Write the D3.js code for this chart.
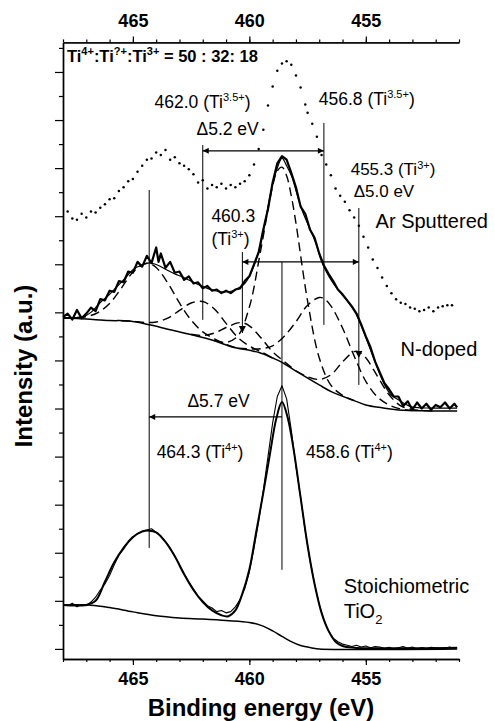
<!DOCTYPE html>
<html>
<head>
<meta charset="utf-8">
<script src="https://cdn.jsdelivr.net/npm/d3@7"></script>
<style>
  body { margin: 0; background: #fff; }
  svg { display: block; }
  text { font-family: 'Liberation Sans', Arial, sans-serif; fill: #000; }
</style>
</head>
<body>
<svg id="chart" width="495" height="721"></svg>
<script>
// Ti 2p XPS spectra, binding energy (eV) vs intensity (a.u., stacked offsets)
const energyTicks = [465, 460, 455];
const energyMinorTicks = d3.range(451, 469, 1);
const intensityTicks = d3.range(0, 26, 1);

// Ar sputtered (dotted scan)
const arSputtered = [
  [467.8, 18.2], [467.6, 17.9], [467.4, 17.85], [467.2, 18.1], [467.0, 17.95], [466.8, 18.2],
  [466.6, 18.15], [466.4, 18.35], [466.2, 18.5], [466.0, 18.7], [465.8, 18.75], [465.6, 19.05],
  [465.4, 19.2], [465.2, 19.45], [465.0, 19.55], [464.8, 19.85], [464.6, 20.1], [464.4, 20.35],
  [464.2, 20.4], [464.0, 20.65], [463.8, 20.55], [463.6, 20.75], [463.4, 20.35], [463.2, 20.45],
  [463.0, 20.2], [462.8, 20.1], [462.6, 19.95], [462.4, 19.75], [462.2, 19.4], [462.0, 19.5],
  [461.8, 19.15], [461.6, 19.3], [461.4, 19.2], [461.2, 19.35], [461.0, 19.15], [460.8, 19.3],
  [460.6, 19.2], [460.4, 19.35], [460.2, 19.45], [460.0, 19.7], [459.8, 20.15], [459.6, 20.8],
  [459.4, 21.6], [459.2, 22.6], [459.0, 23.4], [458.8, 24.05], [458.6, 24.35], [458.4, 24.45],
  [458.2, 24.3], [458.0, 23.85], [457.8, 23.35], [457.6, 22.65], [457.5, 22.3], [457.3, 21.85],
  [457.1, 21.3], [456.9, 20.55], [456.7, 20.15], [456.5, 19.7], [456.3, 19.15], [456.1, 18.85],
  [455.9, 18.6], [455.7, 18.25], [455.5, 17.95], [455.3, 17.6], [455.1, 17.15], [454.9, 16.7],
  [454.7, 16.2], [454.5, 15.85], [454.3, 15.45], [454.1, 15.1], [453.9, 14.8], [453.7, 14.55],
  [453.5, 14.4], [453.3, 14.35], [453.1, 14.2], [452.9, 14.15], [452.7, 14.05], [452.5, 14.1],
  [452.3, 14.2], [452.1, 14.05], [451.9, 14.2], [451.7, 14.25], [451.5, 14.3], [451.3, 14.3]
];

// N-doped: measured, envelope, Shirley background, components
const nDopedRaw = [
  [468.0, 13.8], [467.8, 13.95], [467.6, 13.7], [467.4, 14.1], [467.2, 13.75], [467.0, 13.95],
  [466.8, 14.2], [466.6, 14.05], [466.4, 14.55], [466.2, 14.5], [466.0, 14.9], [465.8, 14.85],
  [465.6, 15.3], [465.4, 15.25], [465.2, 15.7], [465.0, 15.65], [464.8, 16.1], [464.6, 15.9],
  [464.4, 16.35], [464.2, 16.05], [464.0, 16.7], [463.9, 16.1], [463.8, 16.45], [463.6, 15.85],
  [463.4, 16.1], [463.2, 15.65], [463.0, 15.7], [462.8, 15.35], [462.6, 15.5], [462.4, 15.2],
  [462.2, 15.25], [462.0, 15.0], [461.8, 15.1], [461.6, 14.9], [461.4, 14.95], [461.2, 14.8],
  [461.0, 14.9], [460.8, 14.8], [460.6, 14.95], [460.4, 15.0], [460.2, 15.3], [460.0, 15.5],
  [459.8, 16.0], [459.6, 16.5], [459.4, 17.45], [459.2, 18.3], [459.0, 19.4], [458.8, 20.2],
  [458.6, 20.5], [458.4, 20.35], [458.2, 19.8], [458.0, 19.2], [457.8, 18.4], [457.6, 18.1],
  [457.4, 17.45], [457.2, 17.1], [457.0, 16.45], [456.8, 15.95], [456.6, 15.6], [456.4, 15.3],
  [456.2, 14.95], [456.0, 14.75], [455.8, 14.5], [455.6, 14.25], [455.4, 13.95], [455.2, 13.5],
  [455.0, 13.0], [454.8, 12.55], [454.6, 11.95], [454.4, 11.5], [454.2, 11.05], [454.0, 10.8],
  [453.8, 10.5], [453.6, 10.5], [453.4, 10.1], [453.2, 10.3], [453.0, 9.95], [452.8, 10.25],
  [452.6, 10.0], [452.4, 10.2], [452.2, 9.95], [452.0, 10.15], [451.8, 10.05], [451.6, 10.25],
  [451.4, 10.0], [451.2, 10.2], [451.08, 10.05]
];
const nDopedFit = [
  [468.0, 13.77], [467.5, 13.78], [467.15, 13.81], [466.8, 14.0], [466.42, 14.39], [466.0, 14.75],
  [465.69, 15.06], [465.3, 15.45], [465.0, 15.77], [464.6, 15.98], [464.28, 16.06], [463.9, 15.95],
  [463.56, 15.77], [463.2, 15.6], [462.87, 15.47], [462.5, 15.3], [462.15, 15.14], [461.8, 15.0],
  [461.42, 14.89], [461.1, 14.85], [460.74, 14.89], [460.44, 15.02], [460.2, 15.2], [460.01, 15.47],
  [459.8, 15.95], [459.58, 16.6], [459.28, 17.97], [459.03, 19.22], [458.8, 20.0], [458.6, 20.42],
  [458.4, 20.1], [458.17, 19.63], [457.95, 18.9], [457.74, 18.26], [457.57, 17.85], [457.32, 17.3],
  [457.1, 16.75], [456.93, 16.2], [456.7, 15.7], [456.46, 15.3], [456.16, 14.9], [455.86, 14.55],
  [455.61, 14.23], [455.44, 13.98], [455.1, 13.2], [454.75, 12.31], [454.45, 11.55], [454.15, 10.9],
  [453.9, 10.55], [453.6, 10.36], [453.3, 10.18], [453.04, 10.07], [452.7, 10.03], [452.0, 10.02],
  [451.08, 10.02]
];
const nDopedBackground = [
  [468.0, 13.77], [467.0, 13.72], [466.0, 13.66], [465.14, 13.64], [464.28, 13.48], [463.5, 13.3],
  [462.44, 13.06], [461.5, 12.82], [460.74, 12.56], [460.0, 12.42], [459.58, 12.33], [459.0, 12.1],
  [458.64, 11.94], [457.87, 11.48], [457.0, 10.98], [456.46, 10.69], [455.5, 10.33], [455.0, 10.15],
  [454.3, 10.03], [453.6, 9.94], [452.2, 9.9], [451.08, 9.9]
];
const peak4643 = [
  [468.0, 13.77], [467.5, 13.78], [467.0, 13.82], [466.5, 13.99], [466.0, 14.37], [465.5, 15.0],
  [465.0, 15.67], [464.5, 16.02], [464.3, 16.03], [464.0, 15.87], [463.5, 15.22], [463.0, 14.39],
  [462.5, 13.68], [462.0, 13.19], [461.5, 12.9], [461.0, 12.67], [460.5, 12.5]
];
const peak4620 = [
  [465.5, 13.65], [465.0, 13.63], [464.5, 13.58], [464.0, 13.6], [463.5, 13.76], [463.0, 14.08],
  [462.5, 14.39], [462.0, 14.45], [461.5, 14.14], [461.0, 13.54], [460.5, 12.96], [460.0, 12.6],
  [459.5, 12.36], [459.0, 12.11]
];
const peak4603 = [
  [462.5, 13.09], [462.0, 13.04], [461.5, 13.14], [461.0, 13.37], [460.5, 13.56], [460.3, 13.57],
  [460.0, 13.44], [459.5, 12.94], [459.0, 12.36], [458.5, 11.95], [458.0, 11.57]
];
const peak4586 = [
  [461.5, 12.83], [461.0, 12.75], [460.5, 13.01], [460.0, 14.22], [459.5, 16.65], [459.0, 19.26],
  [458.8, 19.88], [458.6, 20.04], [458.4, 19.68], [458.2, 18.85], [458.0, 17.71], [457.5, 14.47],
  [457.0, 12.11], [456.5, 10.97], [456.0, 10.55], [455.5, 10.33]
];
const peak4568 = [
  [460.5, 12.51], [460.0, 12.48], [459.5, 12.49], [459.0, 12.61], [458.5, 13.01], [458.0, 13.61],
  [457.5, 14.3], [457.0, 14.62], [456.8, 14.57], [456.5, 14.27], [456.0, 13.35], [455.5, 12.18],
  [455.0, 11.13], [454.5, 10.48], [454.0, 10.15], [453.5, 9.98], [453.0, 9.92]
];
const peak4553 = [
  [458.0, 11.57], [457.5, 11.32], [457.0, 11.21], [456.5, 11.4], [456.0, 11.94], [455.5, 12.37],
  [455.3, 12.36], [455.0, 12.11], [454.5, 11.34], [454.0, 10.57], [453.5, 10.11], [453.0, 9.96],
  [452.5, 9.91], [452.0, 9.9]
];
const nDopedPeaks = [peak4643, peak4620, peak4603, peak4586, peak4568, peak4553];

// stoichiometric TiO2
const tio2Raw = [
  [468.0, 1.85], [467.8, 1.8], [467.6, 1.9], [467.4, 1.75], [467.2, 1.85], [467.0, 1.8],
  [466.8, 1.95], [466.6, 2.15], [466.4, 2.45], [466.2, 2.7], [466.0, 3.05], [465.8, 3.5],
  [465.6, 3.9], [465.4, 4.15], [465.2, 4.45], [465.0, 4.65], [464.8, 4.8], [464.6, 4.9],
  [464.4, 4.95], [464.2, 5.0], [464.0, 4.85], [463.8, 4.7], [463.6, 4.45], [463.4, 4.2],
  [463.2, 3.85], [463.0, 3.5], [462.8, 3.15], [462.6, 2.8], [462.4, 2.5], [462.2, 2.2],
  [462.0, 2.0], [461.8, 1.8], [461.6, 1.7], [461.4, 1.55], [461.2, 1.6], [461.0, 1.5],
  [460.8, 1.55], [460.6, 1.75], [460.4, 2.05], [460.2, 2.5], [460.0, 3.2], [459.8, 4.2],
  [459.6, 5.3], [459.4, 6.6], [459.2, 8.0], [459.0, 9.4], [458.8, 10.5], [458.6, 10.95],
  [458.4, 10.4], [458.2, 9.1], [458.0, 7.6], [457.8, 6.3], [457.6, 4.9], [457.4, 3.7],
  [457.2, 2.7], [457.0, 1.85], [456.8, 1.2], [456.6, 0.75], [456.4, 0.45], [456.2, 0.3],
  [456.0, 0.2], [455.8, 0.15], [455.6, 0.1], [455.4, 0.15], [455.2, 0.08], [455.0, 0.12],
  [454.8, 0.05], [454.6, 0.1], [454.4, 0.08], [454.2, 0.02], [454.0, 0.07], [453.8, 0.0],
  [453.6, 0.05], [453.4, 0.1], [453.2, 0.03], [453.0, 0.08], [452.8, 0.0], [452.6, 0.06],
  [452.4, 0.02], [452.2, 0.07], [452.0, 0.05], [451.8, 0.0], [451.6, 0.04], [451.4, 0.08],
  [451.2, 0.03], [451.08, 0.05]
];
const tio2Fit = [
  [468.0, 1.83], [467.0, 1.83], [466.6, 2.0], [466.2, 2.8], [465.8, 3.6], [465.4, 4.2],
  [465.0, 4.65], [464.6, 4.88], [464.3, 4.92], [464.0, 4.85], [463.6, 4.45], [463.2, 3.85],
  [462.8, 3.1], [462.4, 2.45], [462.0, 1.95], [461.6, 1.6], [461.2, 1.4], [460.9, 1.36],
  [460.6, 1.6], [460.3, 2.3], [460.0, 3.3], [459.7, 4.9], [459.4, 6.5], [459.1, 8.2],
  [458.85, 9.55], [458.6, 10.27], [458.35, 9.6], [458.1, 8.3], [457.8, 6.3], [457.5, 4.3],
  [457.2, 2.7], [456.9, 1.5], [456.6, 0.75], [456.3, 0.3], [456.0, 0.12], [455.5, 0.05],
  [451.08, 0.05]
];
const tio2Background = [
  [468.0, 1.83], [466.8, 1.82], [466.0, 1.72], [465.0, 1.54], [464.0, 1.38], [463.0, 1.29],
  [462.0, 1.24], [461.0, 1.18], [460.0, 1.1], [459.5, 0.98], [459.0, 0.75], [458.6, 0.52],
  [458.2, 0.3], [457.8, 0.14], [457.3, 0.04], [457.0, 0.0], [451.08, 0.0]
];

// peak position markers: [energy, top, bottom] in intensity units
const peakLines = [
  [464.3, 19.09, 4.2], [462.0, 20.96, 13.69], [460.3, 16.51, 13.14],
  [458.6, 16.1, 3.29], [456.8, 21.88, 13.48], [455.3, 18.34, 10.98]
];
// splitting arrows: [from, to, intensity]
const splitArrows = [[462.0, 456.8, 20.72], [460.3, 455.3, 16.1]];
const splitArrowSingle = [464.3, 458.6, 9.65];

const svg = d3.select('#chart');
const x = d3.scaleLinear().domain([468, 451]).range([63, 459]);
const y = d3.scaleLinear().domain([-0.42, 25.23]).range([659, 42.4]);

const defs = svg.append('defs');
defs.append('marker')
    .attr('id', 'arrow')
    .attr('viewBox', '0 0 10 10')
    .attr('refX', 10).attr('refY', 5)
    .attr('markerWidth', 9).attr('markerHeight', 6)
    .attr('markerUnits', 'userSpaceOnUse')
    .attr('orient', 'auto-start-reverse')
  .append('path')
    .attr('d', 'M0,0L10,5L0,10Z')
    .attr('fill', '#000');

function styleAxis(g) {
  g.select('.domain').attr('stroke', '#000').attr('stroke-width', 1.4);
  g.selectAll('.tick line').attr('stroke', '#000').attr('stroke-width', 1.2);
  g.selectAll('.tick text')
   .style('font-family', "'Liberation Sans', Arial, sans-serif")
   .style('font-weight', 'bold')
   .style('font-size', '18px')
   .attr('fill', '#000');
}

function drawEnergyAxis(axisFn, ypos, pad) {
  svg.append('g').attr('transform', `translate(0,${ypos})`)
     .call(axisFn(x).tickValues(energyMinorTicks).tickSize(3).tickSizeOuter(0).tickFormat(''))
     .call(styleAxis);
  svg.append('g').attr('transform', `translate(0,${ypos})`)
     .call(axisFn(x).tickValues(energyTicks).tickSize(6).tickSizeOuter(0).tickPadding(pad)
                     .tickFormat(d3.format('d')))
     .call(styleAxis);
}
drawEnergyAxis(d3.axisTop, y.range()[1], 9);
drawEnergyAxis(d3.axisBottom, y.range()[0], 7);

svg.append('g').attr('transform', `translate(${x.range()[0]},0)`)
   .call(d3.axisLeft(y).tickValues(intensityTicks.filter((d) => d % 2)).tickSize(4)
                       .tickSizeOuter(0).tickFormat(''))
   .call(styleAxis);
svg.append('g').attr('transform', `translate(${x.range()[0]},0)`)
   .call(d3.axisLeft(y).tickValues(intensityTicks.filter((d) => d % 2 === 0)).tickSize(8)
                       .tickSizeOuter(0).tickFormat(''))
   .call(styleAxis);

const line = d3.line().x((d) => x(d[0])).y((d) => y(d[1]));
const smooth = d3.line().x((d) => x(d[0])).y((d) => y(d[1])).curve(d3.curveCatmullRom.alpha(0.5));

function drawPath(data, gen, width, dash) {
  svg.append('path')
     .datum(data)
     .attr('d', gen)
     .attr('fill', 'none')
     .attr('stroke', '#000')
     .attr('stroke-width', width)
     .attr('stroke-linejoin', 'round')
     .attr('stroke-dasharray', dash || null);
}

// curves
nDopedPeaks.forEach((p) => drawPath(p, smooth, 1.4, '9,5'));
drawPath(nDopedBackground, smooth, 1.5);
drawPath(nDopedRaw, line, 2.2);
drawPath(nDopedFit, smooth, 1.2);
drawPath(tio2Background, smooth, 1.5);
drawPath(tio2Raw, line, 1.1);
drawPath(tio2Fit, smooth, 2.0);

svg.append('g').selectAll('circle')
   .data(arSputtered)
   .join('circle')
   .attr('cx', (d) => x(d[0]))
   .attr('cy', (d) => y(d[1]))
   .attr('r', 1.25)
   .attr('fill', '#000');

// markers and splitting arrows
svg.append('g').selectAll('line')
   .data(peakLines)
   .join('line')
   .attr('x1', (d) => x(d[0])).attr('x2', (d) => x(d[0]))
   .attr('y1', (d) => y(d[1])).attr('y2', (d) => y(d[2]))
   .attr('stroke', '#000').attr('stroke-width', 1);

function drawTip(energy, value) {
  const px = x(energy);
  const py = y(value);
  svg.append('path')
     .attr('d', `M${px - 3.5},${py - 7}L${px + 3.5},${py - 7}L${px},${py}Z`)
     .attr('fill', '#000');
}
drawTip(460.3, 13.14);
drawTip(455.3, 12.1);

svg.append('g').selectAll('line')
   .data(splitArrows)
   .join('line')
   .attr('x1', (d) => x(d[0])).attr('x2', (d) => x(d[1]))
   .attr('y1', (d) => y(d[2])).attr('y2', (d) => y(d[2]))
   .attr('stroke', '#000').attr('stroke-width', 1.3)
   .attr('marker-start', 'url(#arrow)')
   .attr('marker-end', 'url(#arrow)');
svg.append('line')
   .attr('x1', x(splitArrowSingle[1])).attr('x2', x(splitArrowSingle[0]))
   .attr('y1', y(splitArrowSingle[2])).attr('y2', y(splitArrowSingle[2]))
   .attr('stroke', '#000').attr('stroke-width', 1.3)
   .attr('marker-end', 'url(#arrow)');

/*
  Writes a label made of parts: plain strings, or [text, 'sup'|'sub'] pairs
*/
function label(energy, value, parts, size, weight) {
  const t = svg.append('text')
               .attr('x', x(energy)).attr('y', y(value))
               .style('font-size', size + 'px')
               .style('font-weight', weight || 'normal');
  let shift = 0;
  parts.forEach((p) => {
    const s = typeof p === 'string' ? [p, null] : p;
    let dy = -shift;
    shift = 0;
    if (s[1] === 'sup') shift = -size * 0.4;
    if (s[1] === 'sub') shift = size * 0.3;
    dy += shift;
    t.append('tspan')
     .attr('dy', dy)
     .style('font-size', s[1] ? Math.round(size * 0.65) + 'px' : null)
     .text(s[0]);
  });
}

label(467.83, 24.42, ['Ti', ['4+', 'sup'], ':Ti', ['?+', 'sup'], ':Ti', ['3+', 'sup'], ' = 50 : 32: 18'], 16.5, 'bold');
label(464.07, 22.5, ['462.0 (Ti', ['3.5+', 'sup'], ')'], 17.5);
label(457.02, 22.63, ['456.8 (Ti', ['3.5+', 'sup'], ')'], 17.5);
label(462.27, 21.38, ['\u03945.2 eV'], 17.5);
label(455.65, 19.7, ['455.3 (Ti', ['3+', 'sup'], ')'], 17);
label(455.52, 18.78, ['\u03945.0 eV'], 17);
label(461.63, 17.76, ['460.3'], 17.5);
label(461.63, 16.81, ['(Ti', ['3+', 'sup'], ')'], 17.5);
label(454.58, 17.51, ['Ar Sputtered'], 20);
label(453.51, 12.19, ['N-doped'], 20);
label(462.66, 10.07, ['\u03945.7 eV'], 17.5);
label(463.98, 7.95, ['464.3 (Ti', ['4+', 'sup'], ')'], 17.5);
label(457.57, 7.95, ['458.6 (Ti', ['4+', 'sup'], ')'], 17.5);
label(455.95, 2.33, ['Stoichiometric'], 20);
label(455.95, 1.29, ['TiO', ['2', 'sub']], 20);

// axis titles
svg.append('text')
   .attr('x', (x.range()[0] + x.range()[1]) / 2).attr('y', 716)
   .attr('text-anchor', 'middle')
   .style('font-size', '24px').style('font-weight', 'bold')
   .text('Binding energy (eV)');
svg.append('text')
   .attr('transform', 'translate(32,366) rotate(-90)')
   .attr('text-anchor', 'middle')
   .style('font-size', '24px').style('font-weight', 'bold')
   .text('Intensity (a.u.)');
</script>
</body>
</html>
